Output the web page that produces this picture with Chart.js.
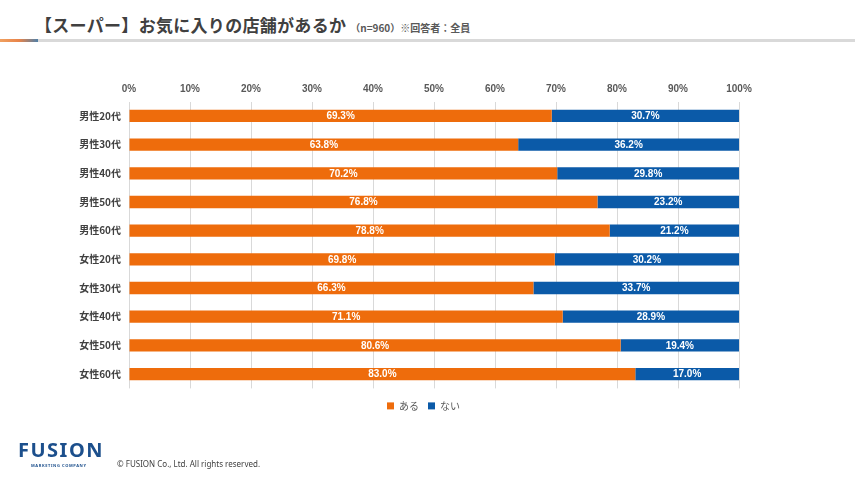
<!DOCTYPE html>
<html><head><meta charset="utf-8">
<script src="https://cdn.jsdelivr.net/npm/chart.js@4"></script>
<style>
html,body{margin:0;padding:0;background:#fff;}
body{width:855px;height:480px;position:relative;overflow:hidden;font-family:"Noto Sans CJK JP","Noto Sans",sans-serif;}
#title{position:absolute;left:35px;top:12px;font-size:17px;font-weight:bold;color:#404040;white-space:nowrap;letter-spacing:0.3px;}
#title small{font-size:10px;font-weight:bold;color:#595959;margin-left:4px;letter-spacing:0;}
#line{position:absolute;left:0;top:39px;width:855px;height:3px;background:#D9D9D9;}
#grad{position:absolute;left:0;top:39px;width:38px;height:3px;background:linear-gradient(90deg,#F0A060,#E8844A 50%,#4F7FA8);}
#wrap{position:absolute;left:0;top:0;width:855px;height:480px;}
#logo{position:absolute;left:18px;top:440px;font-family:"Noto Sans",sans-serif;font-weight:bold;font-size:20px;color:#1C4F8C;letter-spacing:1.5px;line-height:20px;}
#logosub{position:absolute;left:31px;top:463px;font-family:"Noto Sans",sans-serif;font-size:4px;color:#1C4F8C;letter-spacing:0.6px;font-weight:bold;}
#copy{position:absolute;left:117px;top:458px;font-family:"Noto Sans",sans-serif;font-size:8px;color:#404040;}
</style></head><body>
<div id="title">【スーパー】お気に入りの店舗があるか<small>（n=960）※回答者：全員</small></div>
<div id="line"></div><div id="grad"></div>
<div id="wrap"><canvas id="c" width="855" height="480"></canvas></div>
<div id="logo">FUSION</div>
<div id="logosub">MARKETING COMPANY</div>
<div id="copy">© FUSION Co., Ltd. All rights reserved.</div>
<script>
const categories = ["男性20代","男性30代","男性40代","男性50代","男性60代","女性20代","女性30代","女性40代","女性50代","女性60代"];
const aru = [69.3,63.8,70.2,76.8,78.8,69.8,66.3,71.1,80.6,83.0];
const nai = [30.7,36.2,29.8,23.2,21.2,30.2,33.7,28.9,19.4,17.0];
const seriesNames = ["ある","ない"];
const colors = ["#EE6C0C","#0B5AA8"];

const labelPlugin = {
  id:'barLabels',
  afterLayout(chart){
    const lg = chart.legend;
    if(lg){ lg.left += 54; lg.right += 54; lg.top += 3.5; lg.bottom += 3.5; }
  },
  afterDatasetsDraw(chart){
    const ctx = chart.ctx;
    ctx.save();
    ctx.font = 'bold 10px "Liberation Sans", Arial, sans-serif';
    ctx.fillStyle = '#fff';
    ctx.textAlign = 'center';
    ctx.textBaseline = 'middle';
    chart.data.datasets.forEach((ds,i)=>{
      chart.getDatasetMeta(i).data.forEach((bar,j)=>{
        const cx = (bar.x + bar.base)/2;
        ctx.fillText(ds.data[j].toFixed(1)+'%', cx, bar.y+0.5);
      });
    });
    ctx.restore();
  }
};

new Chart(document.getElementById('c'),{
  type:'bar',
  data:{
    labels:categories,
    datasets:[
      {label:seriesNames[0],data:aru,backgroundColor:colors[0],barPercentage:0.43,categoryPercentage:1},
      {label:seriesNames[1],data:nai,backgroundColor:colors[1],barPercentage:0.43,categoryPercentage:1}
    ]
  },
  options:{
    indexAxis:'y',
    responsive:false,
    animation:false,
    layout:{padding:{left:0,right:116,top:0,bottom:62.6}},
    plugins:{
      legend:{
        position:'bottom',
        labels:{boxWidth:7,boxHeight:7,font:{size:10,family:'"Noto Sans CJK JP", sans-serif'},color:'#595959',padding:9},
      },
      tooltip:{enabled:false}
    },
    scales:{
      x:{
        position:'top',stacked:true,min:0,max:100,
        ticks:{stepSize:10,callback:v=>v+'%',color:'#595959',font:{size:10,weight:'bold',family:'"Liberation Sans", Arial, sans-serif'},padding:6},
        grid:{color:'#D9D9D9',drawTicks:false},
        border:{display:false},
        afterFit(s){s.height=101.6;}
      },
      y:{
        stacked:true,
        ticks:{color:'#404040',font:{size:10,weight:'bold',family:'"Noto Sans CJK JP", sans-serif'},padding:8},
        grid:{display:false,drawTicks:false},
        border:{display:false},
        afterFit(s){s.width=129;}
      }
    }
  },
  plugins:[labelPlugin]
});
</script>
</body></html>
